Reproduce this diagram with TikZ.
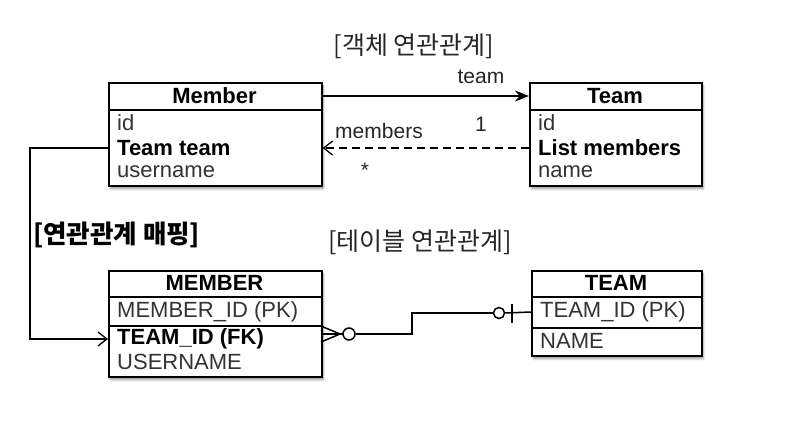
\documentclass[tikz,border=0pt]{standalone}
\usepackage{fontspec}
\setmainfont{Liberation Sans}
\newfontfamily\krfont{Noto Sans CJK KR}
\usetikzlibrary{arrows.meta,shadows.blur}
\begin{document}
\begin{tikzpicture}[x=1pt,y=-1pt,
  box/.style={draw, line width=1.6pt, fill=white, inner sep=0pt, anchor=north west,
    blur shadow={shadow xshift=1.5pt, shadow yshift=-3pt, shadow blur steps=6, shadow opacity=40}},
  div/.style={line width=1.4pt},
  hdr/.style={font=\fontsize{22}{26}\selectfont\bfseries, inner sep=0pt},
  rowtxt/.style={font=\fontsize{22}{26}\selectfont, text=black!80, inner sep=0pt, anchor=west},
  rowbold/.style={font=\fontsize{22}{26}\selectfont\bfseries, inner sep=0pt, anchor=west},
  lbl/.style={font=\fontsize{21}{25}\selectfont, text=black!85, inner sep=0pt},
  kr/.style={font=\krfont\fontsize{25}{29}\selectfont, text=black!85, inner sep=0pt},
  krb/.style={font=\krfont\fontsize{25.5}{29}\selectfont\bfseries, inner sep=0pt},
  conn/.style={line width=1.5pt},
  barb/.tip={Straight Barb[length=9pt,width=14pt,line width=1.3pt]}
]
\useasboundingbox (0,0) rectangle (790,432);

% ---------- object model ----------
\node[box, minimum width=213pt, minimum height=103pt] (member) at (108,82) {};
\draw[div] (108,110) -- (321,110);
\node[hdr] (memberT) at (214.5,96) {Member};
\node[rowtxt] (mid) at (117,123) {id};
\node[rowbold] (mteam) at (117,148) {Team team};
\node[rowtxt] (muser) at (117,172) {username};

\node[box, minimum width=172pt, minimum height=103pt] (team) at (529,82) {};
\draw[div] (529,110) -- (701,110);
\node[hdr] (teamT) at (615,96) {Team};
\node[rowtxt] (tid) at (538,123) {id};
\node[rowbold] (tlist) at (538,148) {List members};
\node[rowtxt] (tname) at (538,172) {name};

\node[kr] (objtitle) at (414,46) {[객체 연관관계]};
\node[lbl] (lteam) at (481,77) {team};
\node[lbl] (lone) at (481,124) {1};
\node[lbl] (lmembers) at (379,131) {members};
\node[lbl] (lstar) at (365,170) {*};

\draw[conn, -{Stealth[length=14pt,width=11pt]}] (memberT -| member.east) -- (teamT -| team.west);
\draw[conn, dashed, dash pattern=on 8pt off 5pt, -barb] (tlist -| team.west) -- (mteam -| member.east);

% ---------- mapping ----------
\node[krb, anchor=west] (maptitle) at (33,235) {[연관관계 매핑]};
\node[kr, anchor=west] (tbltitle) at (328,242) {[테이블 연관관계]};

% ---------- table model ----------
\node[box, minimum width=213pt, minimum height=106pt] (MEMBER) at (108,270) {};
\draw[div] (108,297) -- (321,297);
\draw[div] (108,326) -- (321,326);
\node[hdr] (MEMBERT) at (214.5,283) {MEMBER};
\node[rowtxt] (mmid) at (117,312) {MEMBER\_ID (PK)};
\node[rowbold] (mtid) at (117,339) {TEAM\_ID (FK)};
\node[rowtxt] (muname) at (117,362) {USERNAME};

\node[box, minimum width=170pt, minimum height=85pt] (TEAM) at (531,270) {};
\draw[div] (531,297) -- (701,297);
\draw[div] (531,328) -- (701,328);
\node[hdr] (TEAMT) at (616,283) {TEAM};
\node[rowtxt] (ttid) at (540,312) {TEAM\_ID (PK)};
\node[rowtxt] (ttname) at (540,341) {NAME};

\draw[conn, -barb] (mteam -| member.west) -- (30,148) |- (mtid -| MEMBER.west);

% crow's foot with zero-or-many
\coordinate (cf) at (321,334);
\coordinate (cfend) at (340,334);
\draw[conn] (321,326) -- (cfend) -- (321,342);
\draw[conn] (cf) -- (cfend) -- (343,334);
\node[draw, circle, line width=1.5pt, minimum size=12pt, inner sep=0pt, fill=white] (c1) at (349,334) {};
\node[draw, circle, line width=1.5pt, minimum size=11pt, inner sep=0pt, fill=white] (c2) at (499,313) {};
\draw[conn] (c1.east) -- (412,334) -- (412,313) -- (c2.west);
\draw[conn] (c2.east) -- (ttid.west -| TEAM.west);
\draw[conn] (512,304) -- (512,323);
\end{tikzpicture}
\end{document}
